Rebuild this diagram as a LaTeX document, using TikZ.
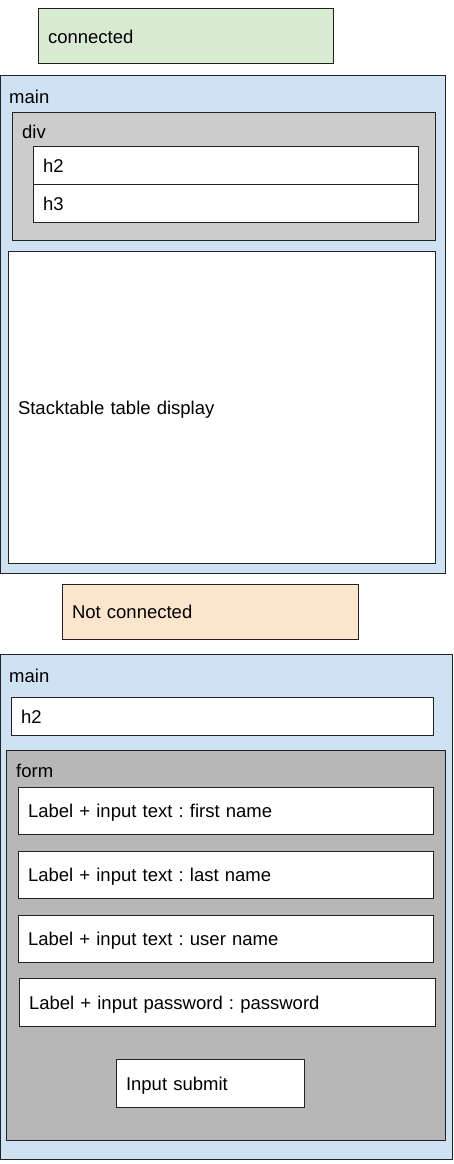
\documentclass[tikz,border=0pt]{standalone}
\usepackage{fontspec}
\setmainfont{Liberation Sans}
\frenchspacing
\definecolor{cgreen}{HTML}{D9EAD3}
\definecolor{cblue}{HTML}{CFE2F3}
\definecolor{cgrey}{HTML}{CCCCCC}
\definecolor{cdgrey}{HTML}{B7B7B7}
\definecolor{corange}{HTML}{FCE5CD}
\definecolor{cline}{HTML}{222222}
\begin{document}
\begin{tikzpicture}[x=1pt,y=-1pt,
  box/.style={draw=cline, line width=1pt, anchor=north west, inner sep=0pt, outer sep=0pt},
  tbox/.style={box, fill=white, inner xsep=10pt, inner ysep=0pt, align=left,
    font=\fontsize{18.5pt}{22pt}\selectfont\frenchspacing, text height=14.4pt, text depth=0pt},
  lbl/.style={anchor=base west, inner sep=0pt, font=\fontsize{18.5pt}{22pt}\selectfont}]
\useasboundingbox (0,0) rectangle (453,1164);

% connected view
\node[tbox, fill=cgreen, minimum width=295pt, minimum height=55pt, text width=275pt] (conn) at (38,9) {connected};
\node[box, fill=cblue, minimum width=445pt, minimum height=498pt] (main1) at (0.5,75) {};
\node[lbl] (main1lbl) at (9,103) {main};
\node[box, fill=cgrey, minimum width=423pt, minimum height=128pt] (div) at (12,112) {};
\node[lbl] (divlbl) at (22,138.5) {div};
\node[tbox, minimum width=385pt, minimum height=38pt, text width=365pt] (h2a) at (33,146) {h2};
\node[tbox, minimum width=385pt, minimum height=38pt, text width=365pt] (h3a) at (33,184) {h3};
\node[tbox, minimum width=427pt, minimum height=312pt, text width=407pt] (stack) at (8,251) {Stacktable table display};

% not connected view
\node[tbox, fill=corange, minimum width=296pt, minimum height=55pt, text width=276pt] (notconn) at (62,584) {Not connected};
\node[box, fill=cblue, minimum width=451.5pt, minimum height=505pt] (main2) at (0.5,654) {};
\node[lbl] (main2lbl) at (9,682) {main};
\node[tbox, minimum width=422pt, minimum height=38pt, text width=402pt] (h2b) at (11,697) {h2};
\node[box, fill=cdgrey, minimum width=439pt, minimum height=390pt] (form) at (6,750) {};
\node[lbl] (formlbl) at (16,777.5) {form};
\node[tbox, minimum width=415pt, minimum height=47pt, text width=395pt] (first) at (18,787) {Label + input text : first name};
\node[tbox, minimum width=415pt, minimum height=47pt, text width=395pt] (last) at (18,851) {Label + input text : last name};
\node[tbox, minimum width=415pt, minimum height=47pt, text width=395pt] (user) at (18,915) {Label + input text : user name};
\node[tbox, minimum width=416pt, minimum height=48pt, text width=396pt] (pass) at (19,978) {Label + input password : password};
\node[tbox, minimum width=188pt, minimum height=48pt, text width=168pt] (submit) at (116,1059) {Input submit};
\end{tikzpicture}
\end{document}
